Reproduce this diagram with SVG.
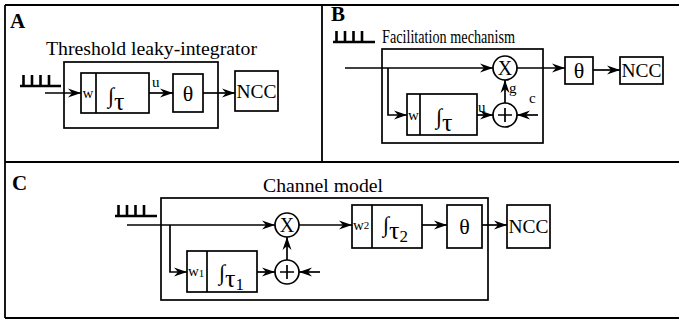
<svg xmlns="http://www.w3.org/2000/svg" width="679" height="321" viewBox="0 0 679 321" font-family="'Liberation Serif', 'Times New Roman', serif">
<defs>
<marker id="ah" markerUnits="userSpaceOnUse" markerWidth="14" markerHeight="10" refX="13" refY="5" orient="auto">
<path d="M0,0.5 L13,5 L0,9.5 L4,5 Z" fill="#000"/>
</marker>
<style>
text{font-family:"Liberation Serif","Times New Roman",serif;fill:#000}
.lbl{font-size:21px;font-weight:bold}
.ttl{font-size:18px}
.box{fill:none;stroke:#000;stroke-width:1.7}
.frame{fill:none;stroke:#000;stroke-width:1.8}
.ln{fill:none;stroke:#000;stroke-width:1.7}
.arr{fill:none;stroke:#000;stroke-width:1.7;marker-end:url(#ah)}
.spk{fill:none;stroke:#000;stroke-width:2.6}
.sm{font-size:15px}
.int{font-size:22px}
.tau{font-size:26px}
.th{font-size:22px}
.ncc{font-size:19px}
.op{font-size:20px}
</style>
</defs>
<g id="frame">
<path class="frame" d="M5,5 H679 M5,5 V318 M322,5 V162 M5,162 H679 M5,318 H679"/>
</g>

<!-- Panel A -->
<g id="panelA">
<text class="lbl" x="10" y="28">A</text>
<text class="ttl" x="46" y="55" textLength="211" lengthAdjust="spacingAndGlyphs">Threshold leaky-integrator</text>
<rect class="box" x="64" y="62" width="154" height="66"/>
</g>
<g id="A_spikes"><path class="spk" d="M20,86 H61 M23.5,75 V86 M32,75 V86 M40.5,75 V86 M49,75 V86"/></g>
<g id="A_int">
<rect class="box" x="81" y="73" width="68" height="40"/>
<line class="ln" x1="96" y1="73" x2="96" y2="113"/>
<text class="sm" x="82.5" y="98">w</text>
<text class="int" x="108" y="103">∫</text>
<text class="tau" x="114" y="110">τ</text>
</g>
<g id="A_theta">
<rect class="box" x="173" y="74" width="30" height="38"/>
<text class="th" x="188" y="101" text-anchor="middle">θ</text>
</g>
<g id="A_ncc">
<rect class="box" x="235" y="71" width="43" height="40"/>
<text class="ncc" x="256.5" y="98" text-anchor="middle" textLength="40" lengthAdjust="spacingAndGlyphs">NCC</text>
</g>
<g id="A_conn">
<line class="arr" x1="45" y1="93" x2="81" y2="93"/>
<line class="arr" x1="149" y1="93" x2="173" y2="93"/>
<text class="sm" x="152" y="87">u</text>
<line class="arr" x1="203" y1="93" x2="235" y2="93"/>
</g>

<!-- Panel B -->
<g id="panelB">
<text class="lbl" x="331" y="21">B</text>
<text class="ttl" x="382" y="43" textLength="133" lengthAdjust="spacingAndGlyphs">Facilitation mechanism</text>
<rect class="box" x="382" y="49" width="161" height="94"/>
</g>
<g id="B_spikes"><path class="spk" d="M333,42 H375 M336.5,31 V42 M345,31 V42 M353.5,31 V42 M362,31 V42"/></g>
<g id="B_mult">
<circle class="ln" cx="505" cy="68" r="12"/>
<text class="op" x="505" y="75" text-anchor="middle">X</text>
</g>
<g id="B_plus">
<circle class="ln" cx="505" cy="115" r="12"/>
<path class="ln" d="M498,115 H512 M505,108 V122" stroke-width="2.2"/>
</g>
<g id="B_int">
<rect class="box" x="407" y="94" width="70" height="41"/>
<line class="ln" x1="420" y1="94" x2="420" y2="135"/>
<text class="sm" x="408" y="120">w</text>
<text class="int" x="436" y="124">∫</text>
<text class="tau" x="442" y="131">τ</text>
</g>
<g id="B_theta">
<rect class="box" x="565" y="57" width="28" height="27"/>
<text class="th" x="579" y="78" text-anchor="middle">θ</text>
</g>
<g id="B_ncc">
<rect class="box" x="620" y="57" width="43" height="27"/>
<text class="ncc" x="641.5" y="77" text-anchor="middle" textLength="40" lengthAdjust="spacingAndGlyphs">NCC</text>
</g>
<g id="B_conn">
<line class="arr" x1="345" y1="68" x2="493" y2="68"/>
<path class="arr" d="M388,68 V115 H407"/>
<line class="arr" x1="517" y1="68" x2="565" y2="68"/>
<line class="arr" x1="593" y1="70" x2="620" y2="70"/>
<line class="arr" x1="477" y1="115" x2="493" y2="115"/>
<text class="sm" x="478" y="112">u</text>
<line class="arr" x1="505" y1="103" x2="505" y2="80"/>
<text class="sm" x="509" y="93">g</text>
<line class="arr" x1="538" y1="115" x2="517" y2="115"/>
<text class="sm" x="529" y="103">c</text>
</g>

<!-- Panel C -->
<g id="panelC">
<text class="lbl" x="12" y="190">C</text>
<text class="ttl" x="263" y="192" textLength="120" lengthAdjust="spacingAndGlyphs">Channel model</text>
<rect class="box" x="161" y="198" width="327" height="102"/>
</g>
<g id="C_spikes"><path class="spk" d="M115,216 H157 M118.5,205 V216 M127,205 V216 M135.5,205 V216 M144,205 V216"/></g>
<g id="C_mult">
<circle class="ln" cx="287" cy="225" r="12"/>
<text class="op" x="287" y="232" text-anchor="middle">X</text>
</g>
<g id="C_plus">
<circle class="ln" cx="287" cy="272" r="12"/>
<path class="ln" d="M280,272 H294 M287,265 V279" stroke-width="2.2"/>
</g>
<g id="C_int1">
<rect class="box" x="187" y="251" width="70" height="41"/>
<line class="ln" x1="207" y1="251" x2="207" y2="292"/>
<text class="sm" x="188" y="276">w<tspan font-size="11" dy="1">1</tspan></text>
<text class="int" x="219" y="280">∫</text>
<text class="tau" x="225" y="287">τ<tspan font-size="17" dy="3">1</tspan></text>
</g>
<g id="C_int2">
<rect class="box" x="352" y="205" width="70" height="43"/>
<line class="ln" x1="372" y1="205" x2="372" y2="248"/>
<text class="sm" x="353" y="230">w<tspan font-size="11" dy="-1">2</tspan></text>
<text class="int" x="383" y="232">∫</text>
<text class="tau" x="389" y="239">τ<tspan font-size="17" dy="3">2</tspan></text>
</g>
<g id="C_theta">
<rect class="box" x="447" y="205" width="35" height="43"/>
<text class="th" x="464.5" y="234" text-anchor="middle">θ</text>
</g>
<g id="C_ncc">
<rect class="box" x="507" y="205" width="43" height="43"/>
<text class="ncc" x="528.5" y="233" text-anchor="middle" textLength="40" lengthAdjust="spacingAndGlyphs">NCC</text>
</g>
<g id="C_conn">
<line class="arr" x1="127" y1="225" x2="275" y2="225"/>
<path class="arr" d="M170,225 V272 H187"/>
<line class="arr" x1="299" y1="225" x2="352" y2="225"/>
<line class="arr" x1="422" y1="225" x2="447" y2="225"/>
<line class="arr" x1="482" y1="225" x2="507" y2="225"/>
<line class="arr" x1="257" y1="272" x2="275" y2="272"/>
<line class="arr" x1="287" y1="260" x2="287" y2="237"/>
<line class="arr" x1="320" y1="272" x2="299" y2="272"/>
</g>
</svg>
